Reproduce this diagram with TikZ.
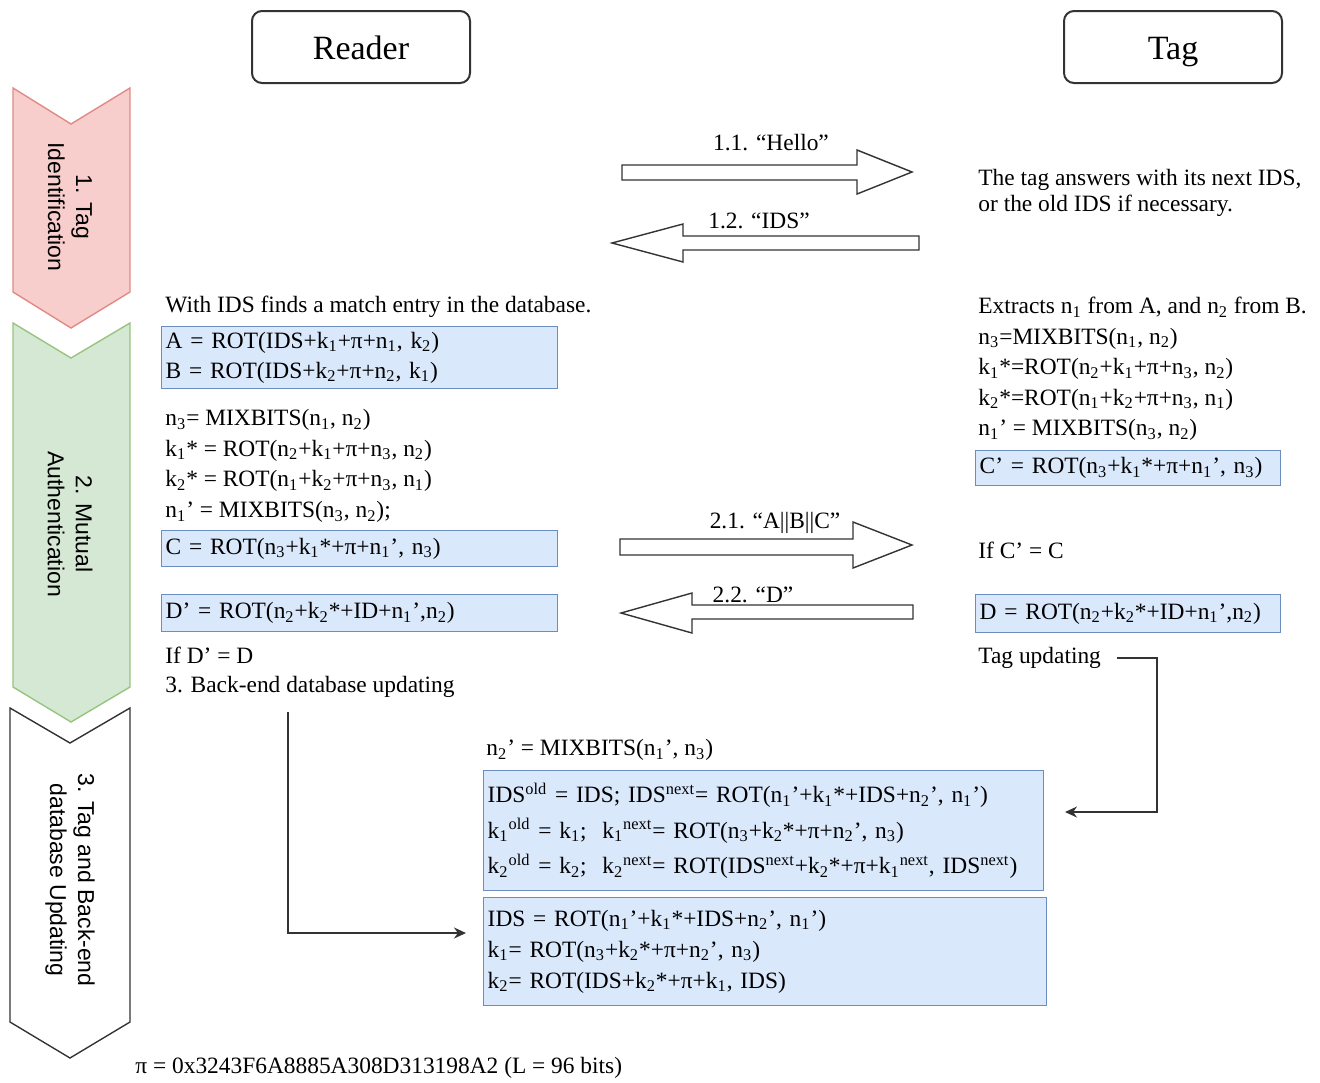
\documentclass[tikz,border=0pt]{standalone}
\usepackage{fontspec}
\setmainfont{Liberation Serif}
\newfontfamily\chevfont{Liberation Sans}
\usepackage{xcolor}
\usepackage{tikz}
\usetikzlibrary{arrows.meta}
\definecolor{boxfill}{HTML}{DAE8FC}
\definecolor{boxline}{HTML}{6C8EBF}
\definecolor{redfill}{HTML}{F8CECC}
\definecolor{redline}{HTML}{E08A85}
\definecolor{greenfill}{HTML}{D5E8D4}
\definecolor{greenline}{HTML}{97C47E}
\definecolor{darkline}{HTML}{333333}
\newcommand{\sbs}[1]{\textsubscript{#1}}
\newcommand{\sps}[1]{\textsuperscript{#1}}

\begin{document}
\begin{tikzpicture}[x=0.5pt,y=-0.5pt,>=Stealth,
  txt/.style={anchor=west,inner sep=0pt,align=left,font=\fontsize{11.7}{15.3}\selectfont},
  eqbox/.style={anchor=north west,draw=boxline,fill=boxfill,line width=0.7pt,
    inner xsep=2pt,inner ysep=0pt,align=left,font=\fontsize{11.7}{15}\selectfont},
  party/.style={draw=darkline,line width=1pt,rounded corners=5pt,
    minimum width=109pt,minimum height=36pt,text height=14.5pt,text depth=2.5pt,
    font=\fontsize{17}{20}\selectfont},
  phase/.style={rotate=-90,align=center,font=\chevfont\fontsize{11.5}{14}\selectfont},
  msg/.style={draw=darkline,fill=white,line width=0.7pt},
  msglabel/.style={inner sep=0pt,font=\fontsize{11.7}{14}\selectfont},
  link/.style={draw=darkline,line width=0.8pt,->,>={Stealth[length=6pt,width=5.5pt]}},
]
  \useasboundingbox (0,0) rectangle (1320,1082);

  % the two parties
  \node[party] (reader) at (361,47) {Reader};
  \node[party] (tag)    at (1173,47) {Tag};

  % phase chevrons down the left side
  \draw[line width=0.7pt,draw=redline,fill=redfill]
    (13,88) -- (71,124) -- (130,88) -- (130,292) -- (71,328) -- (13,292) -- cycle;
  \draw[line width=0.7pt,draw=greenline,fill=greenfill]
    (13,323) -- (71,358) -- (130,323) -- (130,687) -- (71,722) -- (13,687) -- cycle;
  \draw[line width=0.7pt,draw=darkline,fill=white]
    (10,708) -- (70,743) -- (130,708) -- (130,1022) -- (70,1058) -- (10,1022) -- cycle;
  \node[phase] (ph1) at (70,207) {1. Tag\\Identification};
  \node[phase] (ph2) at (70,524) {2. Mutual\\Authentication};
  \node[phase] (ph3) at (70,880) {3. Tag and Back-end\\database Updating};

  % 1. identification messages
  \draw[msg] (622,165) -- (857,165) -- (857,150) -- (912,172) -- (857,194)
    -- (857,180) -- (622,180) -- cycle;
  \draw[msg] (919,236) -- (683,236) -- (683,224) -- (612,243) -- (683,262)
    -- (683,250) -- (919,250) -- cycle;
  \node[msglabel] (hello) at (771,143) {1.1. “Hello”};
  \node[msglabel] (ids)   at (759,221) {1.2. “IDS”};
  \node[txt,font=\fontsize{11.7}{13}\selectfont] (tagans) at (978,193)
    {The tag answers with its next IDS,\\or the old IDS if necessary.};

  % 2. mutual authentication, reader side
  \node[txt] (match) at (165,307) {With IDS finds a match entry in the database.};
  \node[eqbox,text width=194pt,minimum height=31pt] (ab) at (161,326)
    {A = ROT(IDS+k\sbs1+π+n\sbs1, k\sbs2)\\B = ROT(IDS+k\sbs2+π+n\sbs2, k\sbs1)};
  \node[txt] (rdkeys) at (165,466)
    {n\sbs3= MIXBITS(n\sbs1, n\sbs2)\\
     k\sbs1* = ROT(n\sbs2+k\sbs1+π+n\sbs3, n\sbs2)\\
     k\sbs2* = ROT(n\sbs1+k\sbs2+π+n\sbs3, n\sbs1)\\
     n\sbs1' = MIXBITS(n\sbs3, n\sbs2);};
  \node[eqbox,text width=194pt,minimum height=18pt] (c) at (161,530)
    {C = ROT(n\sbs3+k\sbs1*+π+n\sbs1', n\sbs3)};
  \node[eqbox,text width=194pt,minimum height=18.5pt] (dr) at (161,594)
    {D' = ROT(n\sbs2+k\sbs2*+ID+n\sbs1',n\sbs2)};
  \node[txt,font=\fontsize{11.7}{14.5}\selectfont] (backend) at (165,672)
    {If D' = D\\3. Back-end database updating};

  % 2. mutual authentication, tag side
  \node[txt] (tgkeys) at (978,369)
    {Extracts n\sbs1 from A, and n\sbs2 from B.\\
     n\sbs3=MIXBITS(n\sbs1, n\sbs2)\\
     k\sbs1*=ROT(n\sbs2+k\sbs1+π+n\sbs3, n\sbs2)\\
     k\sbs2*=ROT(n\sbs1+k\sbs2+π+n\sbs3, n\sbs1)\\
     n\sbs1' = MIXBITS(n\sbs3, n\sbs2)};
  \node[eqbox,text width=148.5pt,minimum height=17.5pt] (ct) at (975,450)
    {C' = ROT(n\sbs3+k\sbs1*+π+n\sbs1', n\sbs3)};
  \node[txt] (ifc) at (978,550) {If C' = C};
  \node[eqbox,text width=148.5pt,minimum height=19pt] (dt) at (975,594)
    {D = ROT(n\sbs2+k\sbs2*+ID+n\sbs1',n\sbs2)};
  \node[txt] (tagupd) at (978,658) {Tag updating};

  % 2. mutual authentication messages
  \draw[msg] (620,539) -- (853,539) -- (853,522) -- (912,545) -- (853,568)
    -- (853,555) -- (620,555) -- cycle;
  \draw[msg] (913,605) -- (692,605) -- (692,593) -- (621,613) -- (692,633)
    -- (692,619) -- (913,619) -- cycle;
  \node[msglabel] (abc) at (775,523) {2.1. “A||B||C”};
  \node[msglabel] (dmsg) at (753,595) {2.2. “D”};

  % 3. updating
  \node[txt] (n2new) at (486,750) {n\sbs2' = MIXBITS(n\sbs1', n\sbs3)};
  \node[eqbox,text width=276pt,minimum height=60pt,
    font=\fontsize{11.7}{17.75}\selectfont] (upd) at (483,770)
    {IDS\sps{old} = IDS; IDS\sps{next}= ROT(n\sbs1'+k\sbs1*+IDS+n\sbs2', n\sbs1')\\
     k\sbs1\sps{old} = k\sbs1;\ \ k\sbs1\sps{next}= ROT(n\sbs3+k\sbs2*+π+n\sbs2', n\sbs3)\\
     k\sbs2\sps{old} = k\sbs2;\ \ k\sbs2\sps{next}= ROT(IDS\sps{next}+k\sbs2*+π+k\sbs1\sps{next}, IDS\sps{next})};
  \node[eqbox,text width=277.5pt,minimum height=54pt,
    font=\fontsize{11.7}{15.5}\selectfont] (db) at (483,897)
    {IDS = ROT(n\sbs1'+k\sbs1*+IDS+n\sbs2', n\sbs1')\\
     k\sbs1= ROT(n\sbs3+k\sbs2*+π+n\sbs2', n\sbs3)\\
     k\sbs2= ROT(IDS+k\sbs2*+π+k\sbs1, IDS)};

  % update connectors
  \coordinate (rdstart) at (288,712);
  \coordinate (rdin)    at (466,933);
  \coordinate (tagbend) at (1157,658);
  \coordinate (tagin)   at (1065,812);
  \draw[link] (rdstart) |- (rdin);
  \draw[link] ([xshift=8pt]tagupd.east) -- (tagbend) |- (tagin);

  \node[txt] (pival) at (135,1068) {π = 0x3243F6A8885A308D313198A2 (L = 96 bits)};
\end{tikzpicture}
\end{document}
